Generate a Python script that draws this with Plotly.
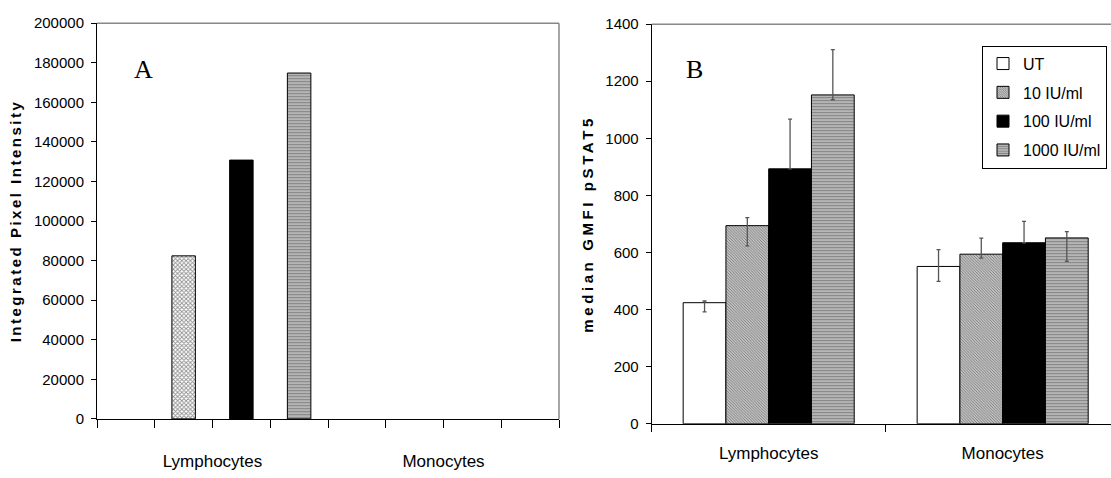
import plotly.graph_objects as go

# ---------------- data ----------------
categories = ["Lymphocytes", "Monocytes"]
series_names = ["UT", "10 IU/ml", "100 IU/ml", "1000 IU/ml"]

# Panel A: Integrated Pixel Intensity
a_ut = [0, 0]
a_10 = [82400, 0]
a_100 = [130800, 0]
a_1000 = [174800, 0]

# Panel B: median GMFI pSTAT5 with (asymmetric) error bars
b_ut = [424, 551]
b_ut_up = [6, 59]
b_ut_dn = [32, 52]
b_10 = [694, 594]
b_10_up = [28, 56]
b_10_dn = [71, 14]
b_100 = [893, 634]
b_100_up = [174, 75]
b_100_dn = [0, 0]
b_1000 = [1152, 651]
b_1000_up = [159, 22]
b_1000_dn = [17, 82]

a_ticks = [0, 20000, 40000, 60000, 80000, 100000, 120000, 140000, 160000, 180000, 200000]
b_ticks = [0, 200, 400, 600, 800, 1000, 1200, 1400]

# ---------------- styles ----------------
FONT = "Liberation Sans, Arial, sans-serif"
styles = [
    dict(color="white", pattern=dict(shape="")),
    dict(color="white", pattern=dict(shape="\\", size=2, solidity=0.65, fgcolor="#000", bgcolor="white")),
    dict(color="black", pattern=dict(shape="")),
    dict(color="#888", pattern=dict(shape="-", size=3, solidity=0.55, fgcolor="#3a3a3a", bgcolor="#cccccc")),
]
styles_a = [dict(s) for s in styles]
styles_a[1] = dict(color="white", pattern=dict(shape="x", size=3, solidity=0.5, fgcolor="#222", bgcolor="white"))

fig = go.Figure()

# Panel A (explicit slot layout within each category)
a_vals = [a_ut, a_10, a_100, a_1000]
xpos = list(range(len(categories)))
slot = 0.25
bw = 0.1017
for i, (name, vals) in enumerate(zip(series_names, a_vals)):
    center = -0.375 + slot * i
    fig.add_trace(go.Bar(
        x=xpos, y=vals, name=name, showlegend=False,
        width=bw, offset=center - bw / 2,
        marker=dict(color=styles_a[i]["color"], pattern=styles_a[i]["pattern"],
                    line=dict(color="black", width=[1 if v > 0 else 0 for v in vals])),
        xaxis="x", yaxis="y",
    ))

# Panel B
b_vals = [b_ut, b_10, b_100, b_1000]
b_up = [b_ut_up, b_10_up, b_100_up, b_1000_up]
b_dn = [b_ut_dn, b_10_dn, b_100_dn, b_1000_dn]
for i, name in enumerate(series_names):
    fig.add_trace(go.Bar(
        x=categories, y=b_vals[i], name=name, legendgroup=name,
        marker=dict(color=styles[i]["color"], pattern=styles[i]["pattern"],
                    line=dict(color="black", width=1)),
        error_y=dict(type="data", symmetric=False, array=b_up[i], arrayminus=b_dn[i],
                     color="#555", thickness=1.3, width=2),
        xaxis="x2", yaxis="y2",
    ))

H = 478.0
W = 1111.0
axis_common = dict(showgrid=False, zeroline=False, showline=True, linecolor="black", linewidth=1,
                   ticks="outside", tickcolor="black", tickfont=dict(family=FONT, size=15, color="black"))
cat_font = dict(family=FONT, size=17, color="black")
xaxis_common = {k: v for k, v in axis_common.items() if k != "tickfont"}

fig.update_layout(
    width=1111, height=478,
    margin=dict(l=0, r=0, t=0, b=0),
    paper_bgcolor="white", plot_bgcolor="white",
    barmode="group", bargap=0.269, bargroupgap=0,
    font=dict(family=FONT, color="black"),
    xaxis=dict(**xaxis_common, tickfont=cat_font,
               domain=[97 / W, 559 / W], range=[-0.5, 1.5],
               tickmode="array",
               tickvals=[-0.5, -0.25, 0, 0.25, 0.5, 0.75, 1, 1.25, 1.5],
               ticktext=["", "", categories[0], "", "", "", categories[1], "", ""],
               ticklen=8, ticklabelstandoff=19),
    yaxis=dict(**axis_common, domain=[1 - 425 / H, 1 - 14.7 / H], range=[0, 200000],
               tickmode="array", tickvals=a_ticks, ticktext=[str(t) for t in a_ticks],
               ticklen=5, ticklabelstandoff=4,
               title=dict(text="Integrated Pixel Intensity", standoff=8,
                          font=dict(family=FONT, size=15, weight="bold", color="black"))),
    xaxis2=dict(**xaxis_common, tickfont=cat_font,
                domain=[651.7 / W, 1.0], anchor="y2", type="category",
                range=[-0.5, 1.463], tickson="boundaries", ticklen=7, ticklabelstandoff=14),
    yaxis2=dict(**axis_common, domain=[1 - 430 / H, 1 - 15.7 / H], anchor="x2", range=[0, 1400],
                tickmode="array", tickvals=b_ticks, ticktext=[str(t) for t in b_ticks],
                ticklen=5, ticklabelstandoff=4,
                title=dict(text="median GMFI pSTAT5", standoff=8,
                           font=dict(family=FONT, size=15, weight="bold", color="black"))),
    legend=dict(x=982 / W, y=1 - 38 / H, xanchor="left", yanchor="top",
                bordercolor="black", borderwidth=1, bgcolor="white",
                font=dict(family=FONT, size=16, color="black"),
                tracegroupgap=5, traceorder="grouped"),
    annotations=[
        dict(text="A", x=143 / W, y=1 - 63 / H, xref="paper", yref="paper", showarrow=False,
             xanchor="center", yanchor="middle",
             font=dict(family="Liberation Serif, Times New Roman, serif", size=26, color="black")),
        dict(text="B", x=694 / W, y=1 - 63 / H, xref="paper", yref="paper", showarrow=False,
             xanchor="center", yanchor="middle",
             font=dict(family="Liberation Serif, Times New Roman, serif", size=26, color="black")),
    ],
    shapes=[
        dict(type="line", xref="x domain", yref="y domain", x0=0, x1=1, y0=1, y1=1,
             line=dict(color="#888", width=1.5)),
        dict(type="line", xref="x domain", yref="y domain", x0=1, x1=1, y0=0, y1=1,
             line=dict(color="#888", width=1.5)),
        dict(type="line", xref="x2 domain", yref="y2 domain", x0=0, x1=1, y0=1, y1=1,
             line=dict(color="#888", width=1.5)),
    ],
)

post = """
document.querySelectorAll('.ytitle').forEach(function(e){e.style.letterSpacing='2.5px';});
document.querySelectorAll('.y2title').forEach(function(e){e.style.letterSpacing='3.6px';});
"""
fig.write_html("out.html", post_script=post)
